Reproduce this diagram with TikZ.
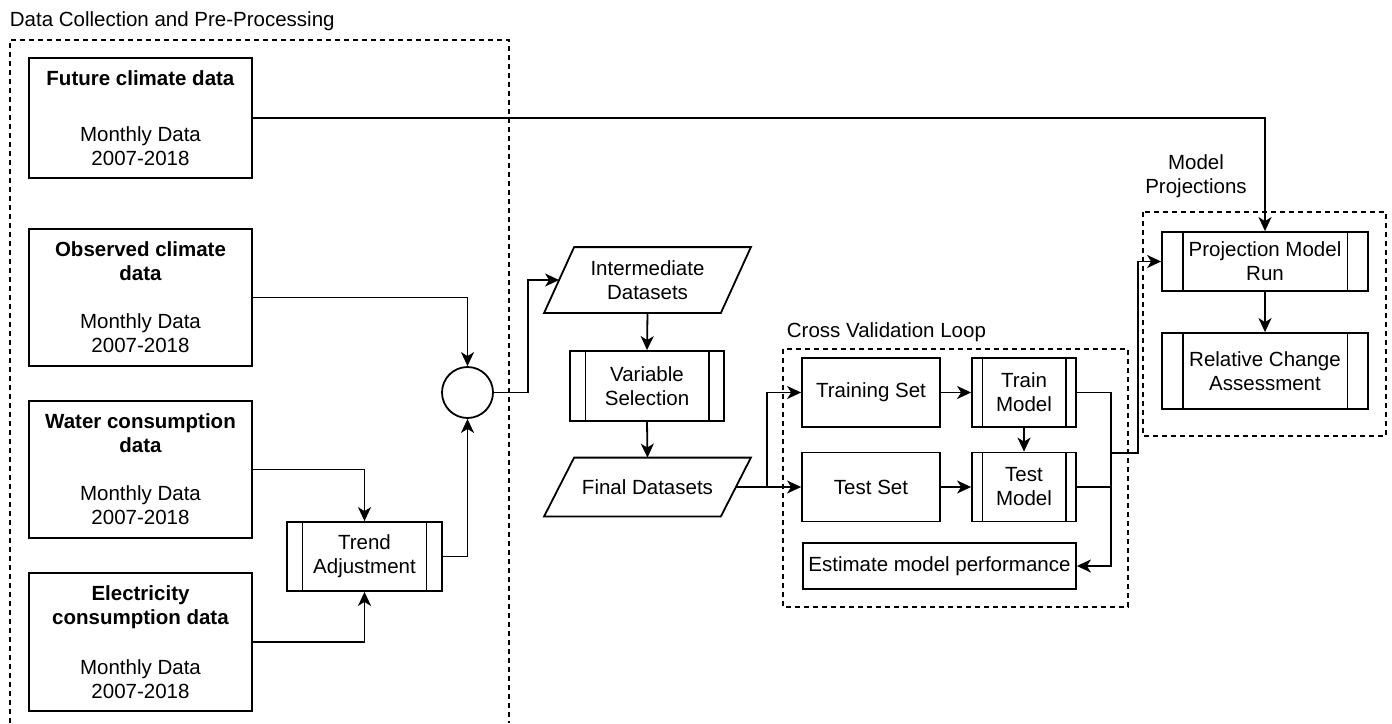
\documentclass[tikz,border=0pt]{standalone}
\usepackage{fontspec}
\setmainfont{Liberation Sans}
\usetikzlibrary{arrows.meta,calc}

\begin{document}
\begin{tikzpicture}
      [
        x=1pt, y=-1pt, line width=1.8pt,
        every node/.style={font=\fontsize{20.5}{24}\selectfont, inner sep=0pt, align=center},
        box/.style={draw, rectangle},
        srcbox/.style={box, minimum width=223pt},
        proc/.style={box, path picture={
            \draw ($(path picture bounding box.north west)!0.1!(path picture bounding box.north east)$)
              -- ($(path picture bounding box.south west)!0.1!(path picture bounding box.south east)$);
            \draw ($(path picture bounding box.north east)!0.1!(path picture bounding box.north west)$)
              -- ($(path picture bounding box.south east)!0.1!(path picture bounding box.south west)$);
          }},
        dataio/.style={minimum width=175pt},
        group/.style={dash pattern=on 5pt off 4pt},
        arr/.style={-{Stealth[length=14pt,width=13pt,inset=4pt]}},
      ]
      \useasboundingbox (0,0) rectangle (1392,723);

      % groups
      \node[anchor=base west] (dclabel) at (9,26.5) {Data Collection and Pre-Processing};
      \draw[group] (10,723) -- (10,40) -- (509,40) -- (509,723);
      \node[anchor=base west] (cvlabel) at (786,337) {Cross Validation Loop};
      \draw[group] (783,349) rectangle (1128,607);
      \node (mplabel) at (1196,176) {Model\\Projections};
      \draw[group] (1143,212) rectangle (1386,436);

      % input data
      \node[srcbox, minimum height=120pt] (fut) at (140.5,118)
        {\textbf{Future climate data}\\[32pt]Monthly Data\\2007-2018};
      \node[srcbox, minimum height=137pt] (obs) at (140.5,297.5)
        {\textbf{Observed climate}\\\textbf{data}\\[24pt]Monthly Data\\2007-2018};
      \node[srcbox, minimum height=137pt] (wat) at (140.5,469.5)
        {\textbf{Water consumption}\\\textbf{data}\\[24pt]Monthly Data\\2007-2018};
      \node[srcbox, minimum height=138pt] (ele) at (140.5,642)
        {\textbf{Electricity}\\\textbf{consumption data}\\[26pt]Monthly Data\\2007-2018};
      \node[proc, minimum width=155pt, minimum height=69pt] (trend) at (364.5,556.5) {Trend\\Adjustment};
      \node[draw, circle, minimum size=51pt] (join) at (467.5,392.5) {};

      % datasets
      \node[dataio, minimum height=64pt] (inter) at (647.5,280) {Intermediate\\Datasets};
      \node[proc, minimum width=154pt, minimum height=70pt] (varsel) at (647,386) {Variable\\Selection};
      \node[dataio, minimum height=57pt] (final) at (647.5,487) {Final Datasets};
      \foreach \n in {inter,final}
        \draw ([xshift=15pt]\n.north west) -- ([xshift=15pt]\n.north east)
          -- ([xshift=-15pt]\n.south east) -- ([xshift=-15pt]\n.south west) -- cycle;

      % cross validation
      \node[box, minimum width=138pt, minimum height=69pt] (trainset) at (871,392.5) {Training Set};
      \node[proc, minimum width=104pt, minimum height=69pt] (trainm) at (1024,392.5) {Train\\Model};
      \node[box, minimum width=138pt, minimum height=69pt] (testset) at (871,487) {Test Set};
      \node[proc, minimum width=104pt, minimum height=69pt] (testm) at (1024,487) {Test\\Model};
      \node[box, minimum width=273pt, minimum height=46pt] (est) at (939.5,566) {Estimate model performance};

      % projections
      \node[proc, minimum width=206pt, minimum height=59pt] (projrun) at (1265,261.5) {Projection Model\\Run};
      \node[proc, minimum width=206pt, minimum height=76pt] (relchg) at (1265,371) {Relative Change\\Assessment};

      % connectors
      \draw[arr] (fut.east) -| (projrun.north);
      \draw[arr] (obs.east) -| (join.north);
      \draw[arr] (wat.east) -| (trend.north);
      \draw[arr] (ele.east) -| (trend.south);
      \draw[arr] (trend.east) -| (join.south);
      \draw[arr] (join.east) -- ++(34,0) |- (inter.west);
      \draw[arr] (inter.south) -- (varsel.north);
      \draw[arr] (varsel.south) -- (final.north);
      \draw[arr] (final.east) -- (testset.west);
      \draw[arr] (final.east) -- ++(31,0) |- (trainset.west);
      \draw[arr] (trainset.east) -- (trainm.west);
      \draw[arr] (testset.east) -- (testm.west);
      \draw[arr] (trainm.south) -- (testm.north);
      \draw[arr] (trainm.east) -- ++(34,0) |- (est.east);
      \draw (testm.east) -- ++(34,0);
      \coordinate (tap) at (1110,453);
      \draw[arr] (tap) -- ++(28,0) |- (projrun.west);
      \draw[arr] (projrun.south) -- (relchg.north);
\end{tikzpicture}
\end{document}
